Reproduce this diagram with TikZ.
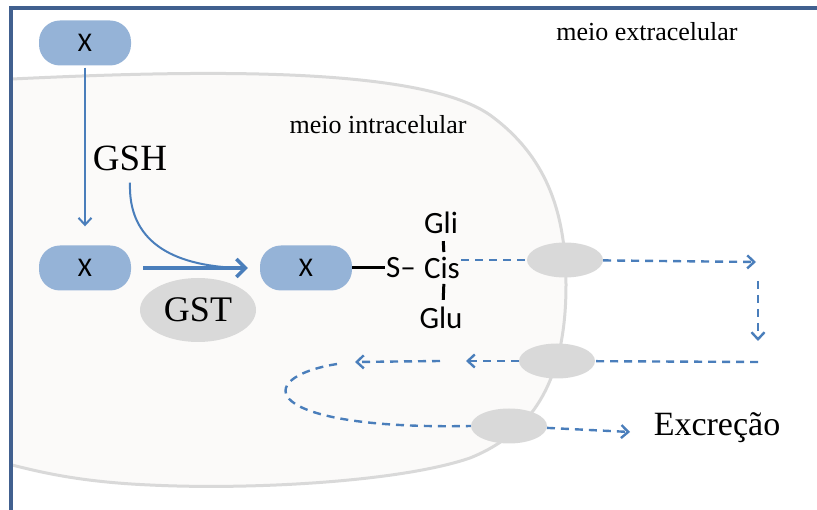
\documentclass[tikz,border=0pt]{standalone}
\usepackage{fontspec}
\setmainfont{Liberation Serif}
\newfontfamily\calibri{Carlito}
\usetikzlibrary{arrows.meta,shapes.geometric}

\definecolor{boxblue}{HTML}{95B3D7}
\definecolor{lineblue}{HTML}{4A7EBB}
\definecolor{poregray}{HTML}{D9D9D9}
\definecolor{cellfill}{HTML}{FBFAF9}
\definecolor{framebl}{HTML}{41608F}

\begin{document}
\begin{tikzpicture}[x=1pt,y=-1pt]
% Diagram style
\tikzset{
    molbox/.style={fill=boxblue, rounded corners=21pt, minimum width=92pt, minimum height=45pt, inner sep=0pt, font=\calibri\fontsize{27}{32}\selectfont},
    pore/.style={ellipse, fill=poregray, minimum width=76pt, minimum height=35pt, inner sep=0pt},
    chem/.style={inner sep=1pt, font=\calibri\fontsize{31}{36}\selectfont},
    flow/.style={lineblue, line width=2pt, -{Straight Barb[length=7pt,width=13pt]}},
    flowdash/.style={lineblue, line width=2.4pt, dash pattern=on 8pt off 6pt},
    dasharrow/.style={flowdash, -{Straight Barb[length=7pt,width=13pt]}}
}
\useasboundingbox (0,0) rectangle (817,510);
% Cell
\fill[cellfill] (12,79) .. controls (200,70) and (420,66) .. (490,115)
    .. controls (545,155) and (566,210) .. (566,285)
    .. controls (566,370) and (540,430) .. (470,458)
    .. controls (400,482) and (250,490) .. (150,485)
    .. controls (80,482) and (40,472) .. (12,465) -- cycle;
\draw[poregray, line width=3pt] (12,79) .. controls (200,70) and (420,66) .. (490,115)
    .. controls (545,155) and (566,210) .. (566,285)
    .. controls (566,370) and (540,430) .. (470,458)
    .. controls (400,482) and (250,490) .. (150,485)
    .. controls (80,482) and (40,472) .. (12,465);
% Frame
\draw[framebl, line width=3.5pt] (830,8) -- (11,8) -- (11,520);
% Labels
\node[font=\fontsize{26}{30}\selectfont] (extra) at (647,32) {meio extracelular};
\node[font=\fontsize{26}{30}\selectfont] (intra) at (378,125) {meio intracelular};
\node[inner sep=0pt, font=\fontsize{37}{42}\selectfont] (GSH) at (130,158) {GSH};
\node[inner sep=0pt, font=\fontsize{34}{38}\selectfont] (excr) at (717,428) {Excreção};
% Molecules
\node[molbox] (Xa) at (85,43) {X};
\node[molbox] (Xb) at (85,268) {X};
\node[molbox] (Xc) at (306,268) {X};
\node[ellipse, fill=poregray, minimum width=116pt, minimum height=64pt, inner sep=0pt, font=\fontsize{36}{40}\selectfont] (GST) at (198,310) {GST};
\node[chem] (S) at (401,268) {S–};
\node[chem] (Cis) at (442,268) {Cis};
\node[chem] (Gli) at (441,223) {Gli};
\node[chem] (Glu) at (441,318) {Glu};
% Pores
\node[pore] (poreA) at (565,260) {};
\node[pore] (poreB) at (557,361) {};
\node[pore] (poreC) at (509,426) {};
\coordinate (turnA) at (756,262);
\coordinate (downA) at (758,281);
\coordinate (downB) at (758,341);
\coordinate (backA) at (758,362);
\coordinate (backB) at (466,361);
\coordinate (backC) at (440,361);
\coordinate (backD) at (355,362);
\coordinate (loopA) at (337,364);
\coordinate (outA) at (630,432);
% Connection
\draw[flow, shorten <=2pt, shorten >=19pt] (Xa) -- (Xb);
\draw[lineblue, line width=3.5pt, -{Straight Barb[length=9pt,width=18pt]}, shorten <=12pt, shorten >=12pt] (Xb) -- (Xc);
\draw[lineblue, line width=2pt] ([yshift=-12pt]GSH.south) .. controls (128,240) and (170,266) .. ([xshift=-20pt]Xc.west);
\draw[line width=3pt] (Xc.east) -- (S.west);
\draw[line width=3pt, shorten <=6pt, shorten >=4pt] ([xshift=2pt]Gli.south) -- ([xshift=2pt]Cis.north);
\draw[line width=3pt, shorten <=4pt, shorten >=6pt] ([xshift=2pt]Cis.south) -- ([xshift=2pt]Glu.north);
\draw[flowdash] (Cis.east |- poreA) -- (poreA);
\draw[dasharrow] (poreA) -- (turnA);
\draw[dasharrow] (downA) -- (downB);
\draw[flowdash] (backA) -- (poreB);
\draw[dasharrow] (poreB) -- (backB);
\draw[dasharrow] (backC) -- (backD);
\draw[flowdash] (loopA) .. controls (250,378) and (260,430) .. (poreC.west);
\draw[dasharrow] (poreC) -- (outA);
\end{tikzpicture}
\end{document}
